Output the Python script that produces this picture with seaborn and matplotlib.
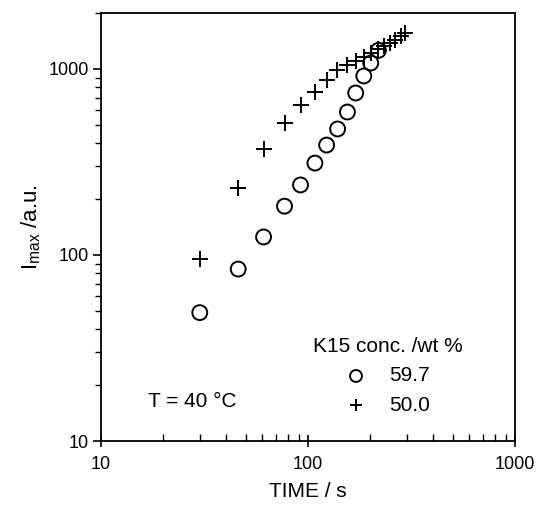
import numpy as np
import pandas as pd
import matplotlib
matplotlib.use("Agg")
import matplotlib.pyplot as plt
import matplotlib.ticker as mticker
import seaborn as sns

# datos
t_597 = [30, 46, 61, 77, 92, 108, 123, 139, 155, 170, 186, 201, 219]
i_597 = [49, 84, 125, 183, 238, 312, 390, 476, 587, 743, 917, 1077, 1260]

t_500 = [30, 46, 61, 77, 92, 108, 123, 138, 154, 170, 186, 201, 217,
         233, 248, 264, 280, 295]
i_500 = [95, 228, 370, 511, 638, 752, 876, 988, 1050, 1105, 1160, 1220,
         1280, 1330, 1385, 1440, 1510, 1560]

labels = ["59.7", "50.0"]

sns.set_theme(style="ticks")
plt.rcParams["font.family"] = ["Liberation Sans", "DejaVu Sans"]
plt.rcParams["mathtext.fontset"] = "custom"
plt.rcParams["mathtext.rm"] = "Liberation Sans"
plt.rcParams["text.color"] = "black"
plt.rcParams["axes.labelcolor"] = "black"
plt.rcParams["xtick.color"] = "black"
plt.rcParams["ytick.color"] = "black"

df_a = pd.DataFrame({"t": t_597, "i": i_597})
df_b = pd.DataFrame({"t": t_500, "i": i_500})

fig = plt.figure(figsize=(5.36, 5.08), dpi=100)
ax = fig.add_axes([101 / 536, 1 - 441 / 508, 414 / 536, 428 / 508])

sns.scatterplot(data=df_a, x="t", y="i", marker="o", s=115,
                facecolors="none", edgecolor="black", linewidth=1.4,
                ax=ax, label=labels[0])
sns.scatterplot(data=df_b, x="t", y="i", marker="+", s=130,
                color="black", linewidth=1.4, ax=ax, label=labels[1])

ax.set_xscale("log")
ax.set_yscale("log")
ax.set_xlim(10, 1000)
ax.set_ylim(10, 2000)

fmt = mticker.FuncFormatter(lambda v, p: f"{v:g}")
ax.xaxis.set_major_formatter(fmt)
ax.yaxis.set_major_formatter(fmt)
ax.xaxis.set_minor_formatter(mticker.NullFormatter())
ax.yaxis.set_minor_formatter(mticker.NullFormatter())
ax.tick_params(axis="both", labelsize=13, color="black", width=1.2)
ax.tick_params(axis="x", which="major", direction="inout", length=8, pad=7)
ax.tick_params(axis="x", which="minor", direction="in", length=5, width=1.0)
ax.tick_params(axis="y", which="major", direction="out", length=6, pad=3)
ax.tick_params(axis="y", which="minor", direction="out", length=4, width=1.0)
for sp in ax.spines.values():
    sp.set_linewidth(1.3)
    sp.set_color("black")

ax.set_xlabel("TIME / s", fontsize=15, labelpad=6)
ax.set_ylabel(r"$\mathregular{I_{max}}$ /a.u.", fontsize=16, labelpad=4)

ax.text(0.114, 0.092, "T = 40 °C", transform=ax.transAxes, fontsize=15,
        va="center", ha="left")

ax.legend(title="K15 conc. /wt %", title_fontsize=15, fontsize=15,
          frameon=False, loc="center", bbox_to_anchor=(0.693, 0.152),
          handlelength=1.0, handletextpad=1.1, labelspacing=0.5,
          markerscale=0.8)

fig.savefig("out.png", dpi=100)
